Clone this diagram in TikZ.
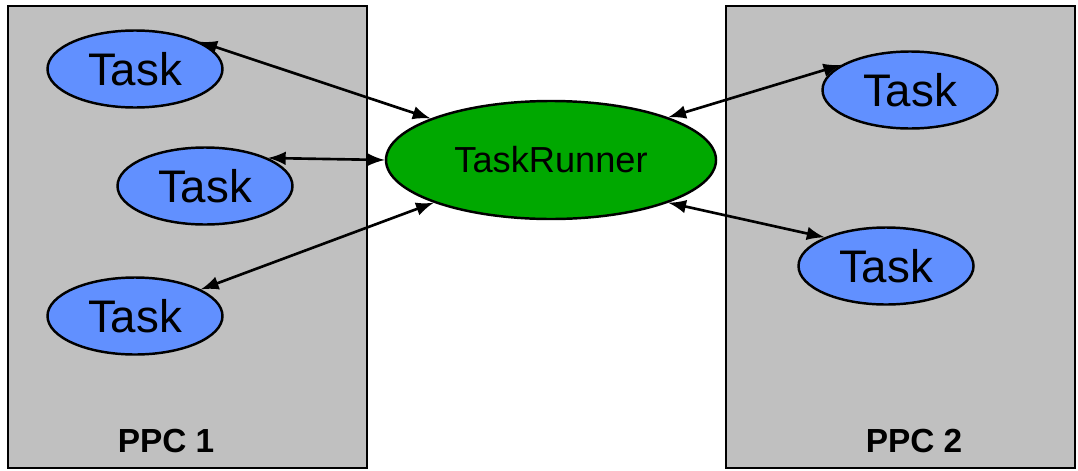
\documentclass[tikz,border=0pt]{standalone}
\usepackage{fontspec}
\setmainfont{Liberation Sans}
\usetikzlibrary{shapes.geometric}

\definecolor{boxgray}{HTML}{C0C0C0}
\definecolor{taskblue}{HTML}{6190FF}
\definecolor{runnergreen}{HTML}{00A800}

\tikzset{
  ppcbox/.style={draw, fill=boxgray, line width=0.7pt, minimum height=4.62cm, inner sep=0pt},
  task/.style={ellipse, draw, fill=taskblue, line width=0.7pt, inner sep=0pt,
    minimum width=1.75cm, minimum height=0.77cm, font=\fontsize{13}{15}\selectfont},
  runner/.style={ellipse, draw, fill=runnergreen, line width=0.7pt, inner sep=0pt,
    minimum width=3.3cm, minimum height=1.18cm, font=\fontsize{10.3}{12}\selectfont},
  ppclabel/.style={font=\fontsize{9.5}{11}\selectfont\bfseries}
}

\begin{document}
\begin{tikzpicture}
  \useasboundingbox (0,0) rectangle (10.78,4.70);
  % the two machines
  \node[ppcbox, minimum width=3.59cm] (ppc1) at (1.875,2.33) {};
  \node[ppcbox, minimum width=3.49cm] (ppc2) at (9.005,2.33) {};
  \node[ppclabel] (lab1) at (1.66,0.29) {PPC 1};
  \node[ppclabel] (lab2) at (9.14,0.29) {PPC 2};

  % tasks and the runner
  \node[task] (t1) at (1.35,4.01) {Task};
  \node[task] (t2) at (2.05,2.84) {Task};
  \node[task] (t3) at (1.35,1.54) {Task};
  \node[task] (t4) at (9.10,3.80) {Task};
  \node[task] (t5) at (8.86,2.04) {Task};
  \node[runner] (tr) at (5.51,3.10) {TaskRunner};

  \begin{scope}[<->, >=latex, line width=0.75pt]
    \draw (t1.23) -- (tr.161);
    \draw (t2.24) -- (tr.180);
    \draw (t3.22) -- (tr.200);
    \draw (t4.160) -- (tr.20);
    \draw (t5.155) -- (tr.340);
  \end{scope}
\end{tikzpicture}
\end{document}
